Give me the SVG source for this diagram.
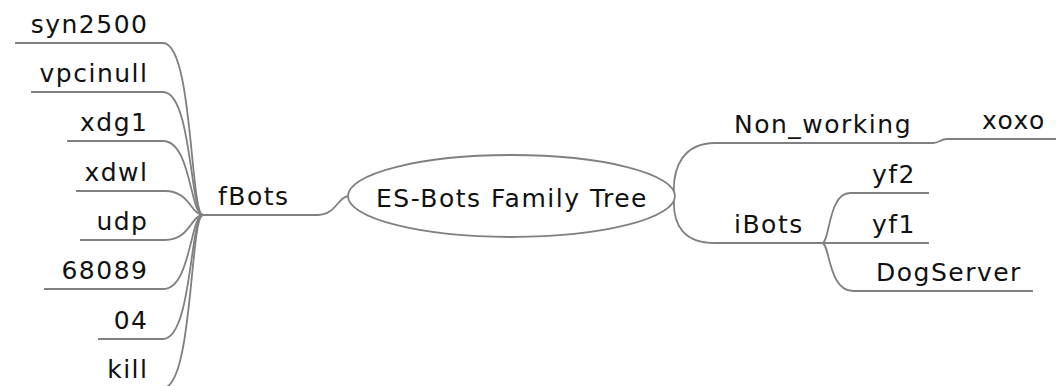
<svg xmlns="http://www.w3.org/2000/svg" width="1056" height="386" viewBox="0 0 1056 386">
  <style>
    .bg { fill: #ffffff; }
    .edge { fill: none; stroke: #808080; stroke-width: 1.8; }
    .root { fill: #ffffff; stroke: #808080; stroke-width: 1.8; }
    text { font-family: "DejaVu Sans", sans-serif; font-size: 25px; letter-spacing: 1.5px; fill: #111111; }
    .l { text-anchor: end; }
    .c { text-anchor: middle; }
  </style>
  <rect class="bg" x="0" y="0" width="1056" height="386"/>

  <!-- connectors: underlines plus bezier joins -->
  <g id="connectors">
    <!-- fBots children (left) -->
    <path class="edge" d="M15 43 L163 43 C193 43 190 215 203 215"/>
    <path class="edge" d="M31 92 L163 92 C192 92 190 215 203 215"/>
    <path class="edge" d="M67 141 L163 141 C191 141 190 215 203 215"/>
    <path class="edge" d="M76 191 L165 191 C190 191 191 215 203 215"/>
    <path class="edge" d="M80 240 L165 240 C190 240 191 215 203 215"/>
    <path class="edge" d="M44 289 L163 289 C191 289 190 215 203 215"/>
    <path class="edge" d="M98 339 L163 339 C192 339 190 215 203 215"/>
    <path class="edge" d="M100 388 L163 388 C193 388 190 215 203 215"/>
    <!-- fBots to root -->
    <path class="edge" d="M203 215 L318 215 C336 215 338 196 349 196"/>
    <!-- root to right branches -->
    <path class="edge" d="M674 196 C672 165 685 143 715 143 L933 143 C940 143 940 139 947 139 L1056 139"/>
    <path class="edge" d="M674 196 C672 227 685 243 715 243 L822 243"/>
    <!-- iBots children -->
    <path class="edge" d="M822 243 C830 243 828 193 850 193 L929 193"/>
    <path class="edge" d="M822 243 L929 243"/>
    <path class="edge" d="M822 243 C830 243 828 291 853 291 L1033 291"/>
  </g>

  <g id="root">
    <ellipse class="root" cx="511.5" cy="196" rx="163.5" ry="41"/>
    <text class="c" x="512" y="207">ES-Bots Family Tree</text>
  </g>

  <g id="fBots"><text x="218" y="205">fBots</text></g>
  <g id="syn2500"><text class="l" x="148.5" y="33">syn2500</text></g>
  <g id="vpcinull"><text class="l" x="148.5" y="82">vpcinull</text></g>
  <g id="xdg1"><text class="l" x="148.5" y="131">xdg1</text></g>
  <g id="xdwl"><text class="l" x="148.5" y="181">xdwl</text></g>
  <g id="udp"><text class="l" x="148.5" y="230">udp</text></g>
  <g id="n68089"><text class="l" x="148.5" y="279">68089</text></g>
  <g id="n04"><text class="l" x="148.5" y="329">04</text></g>
  <g id="kill"><text class="l" x="148.5" y="378">kill</text></g>

  <g id="Non_working"><text x="734" y="133">Non_working</text></g>
  <g id="xoxo"><text x="982" y="129">xoxo</text></g>
  <g id="iBots"><text x="734" y="233">iBots</text></g>
  <g id="yf2"><text x="872" y="183">yf2</text></g>
  <g id="yf1"><text x="872" y="233">yf1</text></g>
  <g id="DogServer"><text x="876" y="281">DogServer</text></g>
</svg>
